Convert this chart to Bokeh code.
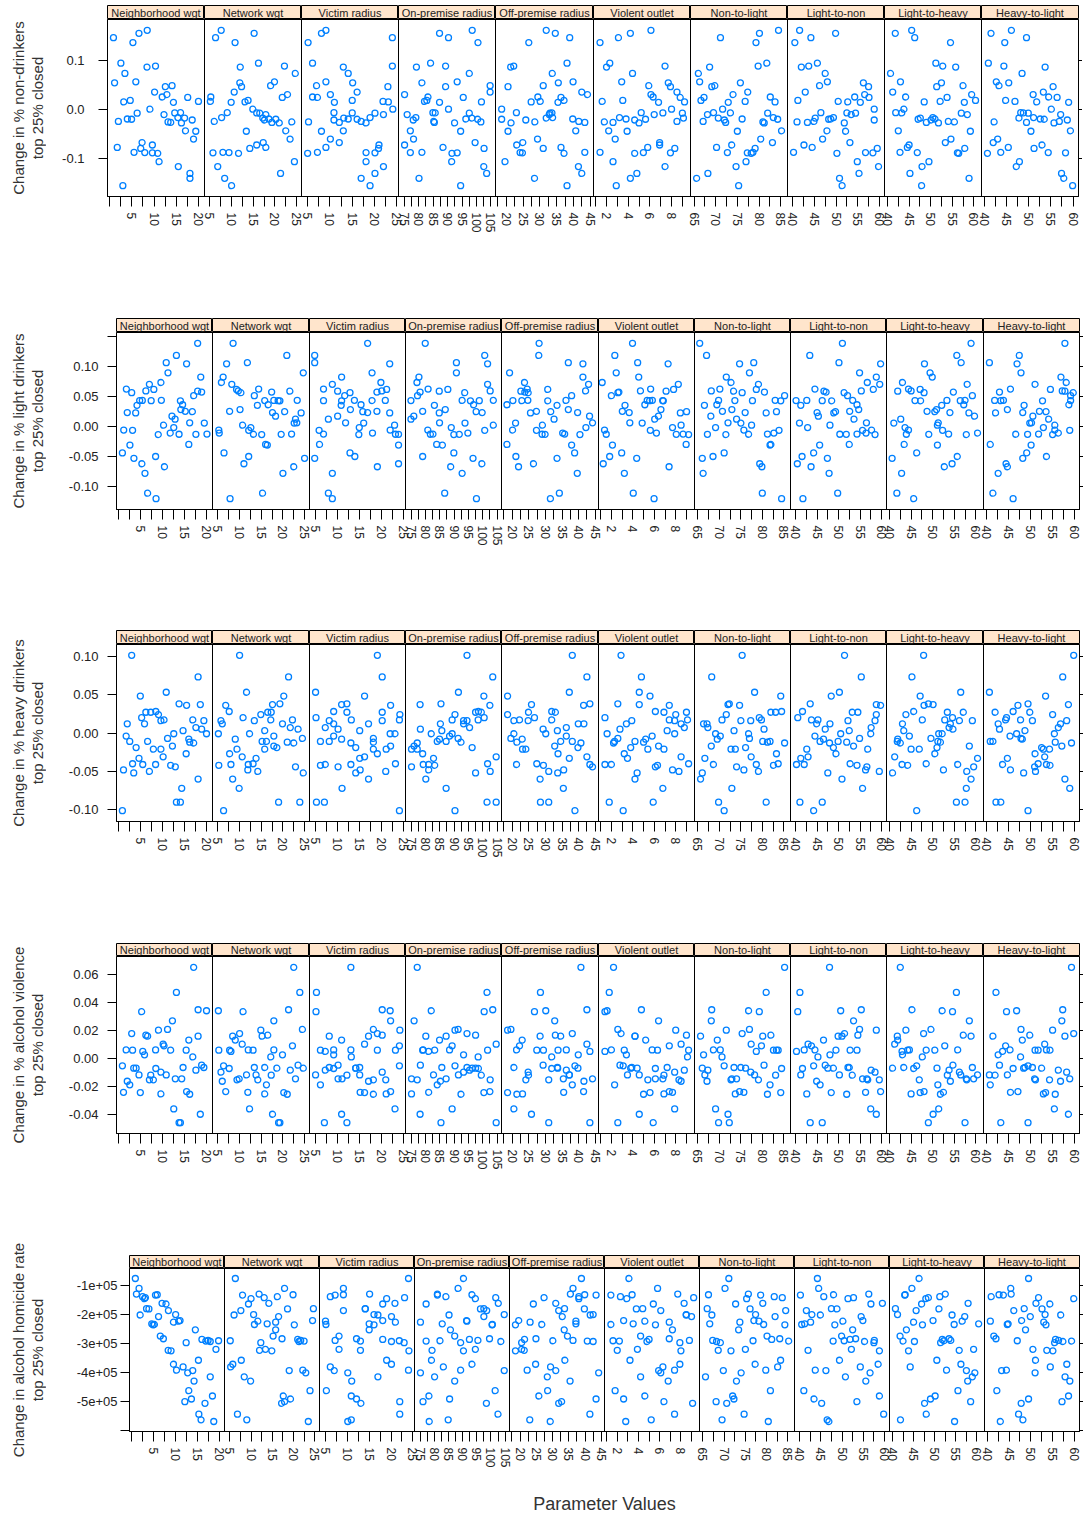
import math
from bokeh.plotting import figure
from bokeh.layouts import row, column
from bokeh.models import Range1d, FixedTicker, LinearAxis, Span
from bokeh.embed import file_html
from bokeh.resources import INLINE
from bokeh.core.properties import value

PARAMS = ["Neighborhood wgt", "Network wgt", "Victim radius", "On-premise radius",
          "Off-premise radius", "Violent outlet", "Non-to-light", "Light-to-non",
          "Light-to-heavy", "Heavy-to-light"]
X_STEP = [5, 5, 5, 5, 5, 2, 5, 5, 5, 5]

# ---------- row 1 : non-drinkers (these x lists are also the 50 runs' parameter values) ----------
r1_y = [0.161, 0.155, 0.146, 0.136, 0.094, 0.088, 0.086, 0.073, 0.056, 0.054, 0.048, 0.046, 0.035, 0.030,
        0.025, 0.024, 0.018, 0.016, 0.015, 0.014, 0.000, -0.007, -0.0075, -0.008, -0.011, -0.017, -0.018,
        -0.020, -0.0205, -0.022, -0.025, -0.026, -0.027, -0.028, -0.044, -0.045, -0.061, -0.068, -0.073,
        -0.078, -0.080, -0.088, -0.0885, -0.089, -0.090, -0.107, -0.117, -0.131, -0.141, -0.156]
r1_x01 = [8.45, 6.6, 0.9, 5.25, 2.56, 10.3, 8.4, 3.46, 5.9, 1.15, 14.0, 12.5, 10.1, 12.85, 11.8, 17.5, 4.65,
          19.9, 3.2, 14.3, 9.05, 15.9, 14.6, 6.2, 12.2, 15.3, 16.8, 4.0, 4.95, 18.5, 2.0, 13.1, 13.7, 16.1,
          17.0, 19.3, 18.8, 7.3, 9.6, 1.75, 7.0, 5.5, 7.9, 9.6, 10.8, 11.1, 15.4, 18.0, 18.0, 3.0]
r1_x02 = [7.6, 15.2, 6.3, 10.8, 16.2, 22.2, 12.0, 24.7, 19.9, 11.9, 19.0, 12.3, 10.6, 22.9, 5.2, 21.7, 13.8,
          5.1, 13.1, 9.9, 14.9, 9.0, 15.8, 16.5, 17.9, 7.7, 17.2, 18.6, 20.2, 17.6, 6.0, 23.9, 19.3, 21.0,
          22.5, 13.4, 23.5, 17.3, 15.8, 17.9, 14.2, 8.0, 9.4, 5.7, 11.6, 24.5, 6.8, 21.3, 8.4, 10.0]
r1_x03 = [9.1, 8.1, 24.0, 5.1, 6.1, 24.0, 13.0, 14.1, 9.1, 15.1, 7.0, 23.0, 16.1, 10.1, 6.1, 7.2, 15.0, 21.9,
          23.1, 11.0, 24.1, 10.9, 15.0, 20.1, 22.0, 19.0, 13.1, 14.1, 16.1, 10.9, 17.0, 5.2, 12.1, 18.1, 13.0,
          8.1, 10.1, 12.1, 21.0, 9.1, 20.9, 7.2, 18.1, 20.1, 5.0, 18.1, 22.0, 20.1, 17.0, 19.0]
r1_x04 = [98.5, 87.2, 90.3, 100.5, 84.1, 89.3, 79.2, 97.5, 93.3, 81.1, 104.7, 89.3, 104.7, 75.1, 83.2, 95.4,
          82.8, 82.0, 101.7, 87.2, 90.3, 84.9, 85.7, 97.5, 76.0, 79.0, 98.4, 96.3, 100.4, 78.1, 85.2, 101.5,
          85.4, 92.4, 77.1, 94.5, 78.2, 99.5, 75.1, 88.4, 102.6, 81.1, 77.1, 93.3, 91.5, 91.4, 102.5, 103.5,
          80.1, 94.5]
r1_x05 = [31.9, 34.6, 38.9, 26.7, 38.1, 22.2, 21.3, 33.7, 39.9, 35.5, 31.0, 20.5, 42.5, 44.2, 29.4, 36.3, 37.2,
          30.1, 27.4, 35.4, 18.6, 23.0, 33.6, 33.0, 32.8, 33.8, 31.9, 39.8, 18.6, 25.8, 41.6, 28.5, 43.4, 21.4,
          40.7, 20.5, 29.3, 24.9, 23.1, 36.3, 31.0, 43.4, 24.1, 24.8, 37.2, 19.6, 41.5, 42.5, 28.4, 38.1]
r1_x06 = [6.1, 4.2, 3.1, 1.4, 2.3, 7.4, 2.0, 4.4, 3.4, 7.7, 5.9, 7.9, 8.5, 6.1, 6.3, 8.8, 3.5, 1.6, 9.2, 6.8,
          8.0, 5.2, 7.2, 9.0, 6.4, 3.2, 9.1, 3.8, 5.6, 4.6, 8.5, 1.8, 2.6, 5.0, 2.2, 3.9, 2.8, 6.9, 6.9, 5.8,
          8.3, 1.4, 5.4, 7.9, 4.6, 2.6, 7.4, 4.8, 4.2, 2.9]
r1_x07 = [84.5, 80.1, 71.1, 79.3, 81.8, 79.8, 68.6, 66.0, 66.3, 75.7, 69.8, 69.1, 77.4, 74.0, 82.6, 67.3, 66.6,
          76.8, 83.7, 72.9, 71.6, 69.5, 73.4, 82.0, 68.1, 83.3, 70.6, 76.1, 84.3, 72.0, 67.1, 80.9, 72.3, 81.2,
          85.2, 75.0, 80.4, 83.1, 73.7, 70.2, 79.1, 78.6, 72.7, 77.3, 78.2, 77.0, 74.7, 68.2, 65.6, 75.3]
r1_x08 = [41.6, 49.9, 44.2, 40.5, 45.7, 43.7, 42.0, 47.5, 48.0, 56.3, 46.2, 57.5, 42.9, 56.6, 54.3, 57.6, 41.2,
          50.5, 52.7, 55.6, 58.8, 46.5, 52.5, 54.5, 53.5, 49.4, 45.2, 48.8, 48.3, 58.8, 44.9, 41.0, 43.4, 51.9,
          47.9, 52.2, 46.9, 53.2, 42.6, 44.5, 59.5, 40.2, 56.8, 58.5, 50.2, 54.9, 59.8, 55.3, 50.8, 51.4]
r1_x09 = [45.6, 41.8, 46.3, 54.6, 51.2, 52.8, 55.8, 40.7, 43.0, 52.5, 57.5, 51.4, 41.2, 59.5, 44.2, 53.8, 60.4,
          52.2, 48.5, 57.8, 43.8, 41.9, 43.3, 57.1, 58.5, 50.5, 47.6, 51.0, 47.1, 50.1, 54.1, 55.5, 49.0, 51.8,
          42.5, 59.2, 54.7, 53.4, 45.0, 44.6, 57.9, 42.9, 46.9, 56.2, 56.5, 49.6, 48.0, 45.2, 58.9, 47.9]
r1_x10 = [46.1, 41.5, 49.5, 44.6, 40.9, 44.4, 53.7, 48.5, 42.7, 45.5, 43.3, 55.5, 53.3, 51.0, 54.5, 56.4, 44.8,
          46.9, 51.8, 59.0, 55.1, 48.2, 48.8, 49.9, 57.2, 51.1, 47.8, 52.6, 53.5, 58.7, 56.9, 42.2, 49.5, 55.7,
          59.4, 50.5, 43.0, 42.0, 53.0, 45.4, 51.2, 43.7, 54.4, 58.3, 40.7, 47.9, 47.2, 57.4, 57.9, 59.9]

# ---------- row 2 : light drinkers ----------
r2_y = [0.138, 0.118, 0.106, 0.104, 0.089, 0.082, 0.073, 0.070, 0.062, 0.0615, 0.059, 0.0585, 0.057, 0.056,
        0.051, 0.043, 0.0432, 0.0428, 0.0434, 0.0426, 0.036, 0.035, 0.028, 0.025, 0.0245, 0.023, 0.0225,
        0.017, 0.012, 0.006, 0.0055, 0.002, -0.002, -0.006, -0.0065, -0.011, -0.013, -0.0132, -0.0128,
        -0.0135, -0.030, -0.031, -0.044, -0.050, -0.053, -0.062, -0.067, -0.078, -0.111, -0.120]
r2_x01 = [17.9, 13.1, 10.8, 15.4, 11.2, 18.6, 9.6, 7.0, 1.8, 8.0, 6.2, 17.9, 18.8, 3.0, 17.0, 4.8, 5.4, 7.4,
          9.7, 14.0, 14.5, 4.2, 14.1, 15.1, 16.7, 2.0, 3.9, 12.1, 12.8, 16.1, 19.4, 10.2, 12.5, 1.2, 3.2, 11.7,
          13.7, 17.5, 20.0, 9.0, 15.9, 2.6, 0.9, 8.4, 3.5, 5.3, 10.4, 6.0, 6.6, 8.5]
r2_x02 = [8.5, 20.9, 11.8, 7.0, 24.7, 6.2, 5.8, 8.2, 14.4, 9.3, 9.7, 21.6, 17.4, 10.3, 13.4, 15.8, 17.9, 18.9,
          23.3, 19.3, 16.6, 14.1, 10.1, 7.7, 20.4, 17.6, 24.2, 18.3, 22.9, 23.2, 22.6, 10.7, 12.6, 5.2, 12.1,
          5.3, 13.2, 19.6, 22.0, 15.1, 16.0, 16.4, 6.4, 12.1, 25.0, 11.0, 22.5, 20.0, 15.3, 7.8]
r2_x03 = [16.8, 4.8, 4.8, 21.8, 17.8, 10.9, 19.8, 8.8, 6.8, 21.1, 20.0, 10.0, 18.9, 12.8, 11.6, 17.8, 20.8,
          6.8, 13.8, 10.9, 15.3, 10.8, 12.9, 18.9, 15.7, 16.8, 21.8, 10.0, 7.9, 11.8, 15.9, 22.9, 14.9, 21.9,
          5.8, 17.9, 23.1, 23.8, 6.8, 14.8, 5.9, 23.8, 12.8, 13.9, 4.8, 23.8, 19.0, 8.8, 7.9, 8.8]
r2_x04 = [79.9, 100.7, 90.8, 101.7, 90.8, 77.7, 77.0, 101.7, 80.9, 87.8, 102.6, 84.8, 78.1, 93.7, 77.2, 74.9,
          92.8, 98.8, 103.7, 95.7, 96.8, 83.1, 86.9, 79.0, 97.7, 99.8, 84.8, 75.9, 74.9, 84.9, 93.8, 103.7,
          89.0, 80.8, 100.7, 94.8, 81.7, 91.8, 82.6, 89.9, 83.9, 85.9, 89.9, 79.0, 96.6, 99.7, 88.8, 92.8,
          86.7, 97.8]
r2_x05 = [28.1, 28.0, 36.9, 41.3, 19.2, 41.3, 23.7, 43.0, 24.5, 30.7, 42.1, 22.6, 23.8, 24.8, 37.9, 20.2, 36.2,
          22.9, 24.7, 30.7, 18.4, 33.5, 36.9, 27.3, 31.6, 39.7, 25.5, 43.3, 32.6, 44.2, 21.0, 29.1, 42.2, 20.1,
          27.3, 35.2, 29.0, 29.9, 35.8, 40.4, 18.4, 37.9, 38.8, 21.1, 33.5, 26.4, 21.9, 39.6, 34.2, 31.5]
r2_x06 = [3.97, 2.32, 4.45, 7.29, 2.45, 4.55, 1.14, 8.24, 5.66, 7.80, 4.71, 7.10, 2.70, 2.61, 2.00, 6.78, 5.34,
          5.57, 5.82, 6.84, 5.12, 3.27, 6.62, 3.02, 9.01, 3.66, 8.43, 6.39, 6.04, 3.72, 4.87, 8.50, 7.70, 1.36,
          5.63, 6.20, 1.52, 8.05, 8.69, 9.20, 8.97, 2.10, 2.96, 1.84, 4.36, 1.24, 7.38, 3.21, 4.04, 5.98]
r2_x07 = [65.4, 67.0, 78.0, 74.7, 77.0, 71.6, 72.7, 79.1, 70.1, 78.6, 68.1, 73.3, 80.5, 75.3, 85.2, 73.6, 69.8,
          77.7, 83.0, 84.3, 69.4, 66.5, 72.9, 70.7, 83.3, 76.0, 80.9, 68.0, 74.0, 72.0, 75.0, 77.5, 69.1, 75.7,
          83.9, 82.7, 76.8, 67.2, 81.2, 71.5, 82.0, 81.8, 71.1, 68.5, 66.0, 79.4, 79.9, 66.2, 80.0, 84.5]
r2_x08 = [50.9, 43.3, 50.1, 59.8, 54.9, 58.8, 56.7, 59.6, 44.5, 58.1, 55.3, 46.6, 47.1, 51.3, 52.1, 40.1, 42.6,
          46.2, 53.3, 48.4, 54.3, 41.2, 54.7, 52.6, 49.3, 45.0, 48.9, 45.3, 53.6, 56.5, 40.9, 48.0, 42.8, 57.7,
          55.6, 56.4, 50.3, 51.8, 54.3, 58.5, 52.5, 45.6, 44.2, 41.5, 47.4, 40.4, 43.6, 47.8, 49.8, 41.7]
r2_x09 = [58.9, 55.6, 56.6, 48.1, 49.4, 49.9, 43.0, 58.0, 44.4, 47.1, 45.0, 41.9, 54.8, 48.0, 59.2, 45.9, 53.3,
          56.4, 57.5, 47.2, 57.2, 52.1, 50.9, 48.7, 50.5, 54.0, 58.4, 59.7, 42.6, 51.3, 41.0, 51.1, 43.6, 44.4,
          52.3, 60.4, 43.9, 49.1, 53.7, 57.8, 43.4, 51.1, 46.3, 55.7, 40.6, 54.5, 52.7, 42.8, 41.7, 45.6]
r2_x10 = [57.9, 47.5, 40.7, 47.0, 47.9, 57.0, 58.2, 51.1, 45.5, 54.6, 57.3, 57.9, 43.0, 59.8, 59.2, 59.2, 41.9,
          43.3, 43.9, 52.8, 58.8, 48.6, 44.8, 52.1, 53.6, 48.3, 42.1, 50.6, 54.2, 50.3, 49.9, 55.6, 53.0, 55.6,
          59.0, 56.4, 46.7, 49.4, 51.9, 55.1, 40.9, 50.2, 49.2, 53.7, 48.3, 44.5, 44.8, 42.7, 41.5, 46.1]

# ---------- rows 3-5 : outcome of each run (same run order as the row-1 parameter lists) ----------
r3_y = [0.028, -0.011, -0.101, 0.020, -0.011, 0.017, -0.041, -0.052, 0.012, -0.048,
        -0.090, -0.001, -0.031, -0.044, -0.042, 0.007, -0.033, -0.001, -0.040, -0.072,
        0.024, -0.008, 0.003, 0.027, -0.017, -0.027, 0.017, -0.019, 0.048, 0.037,
        0.012, -0.090, 0.038, -0.012, -0.013, 0.016, 0.005, 0.027, -0.021, -0.004,
        -0.050, -0.041, -0.021, 0.016, 0.053, -0.007, 0.036, 0.073, -0.060, 0.101]
r4_y = [-0.0069, 0.0162, -0.0050, 0.0337, -0.0186, 0.0093, 0.0064, -0.0067, 0.0029, -0.0239,
        -0.0456, -0.0358, 0.0105, -0.0143, 0.0062, -0.0081, -0.0115, 0.0344, 0.0062, -0.0143,
        0.0205, 0.0134, -0.0062, 0.0169, 0.0272, 0.0062, 0.0014, -0.0067, -0.0241, -0.0396,
        -0.0160, 0.0475, -0.0456, -0.0253, 0.0654, -0.0062, -0.0045, -0.0117, -0.0251, 0.0064,
        -0.0150, 0.0053, -0.0150, -0.0095, -0.0115, 0.0210, -0.0234, 0.0351, 0.0162, 0.0181]
r5_y = [-187500, -275000, -77300, -235200, -139800, -392000, -323900, -180700, -133000, -130700,
        -393500, -297700, -201100, -401100, -380700, -289800, -233000, -291000, -143200, -429500,
        -325500, -562500, -253400, -208000, -500000, -358000, -505700, -181800, -236400, -480700,
        -202500, -462500, -490900, -286400, -292000, -320500, -568200, -284100, -227300, -111400,
        -162500, -134100, -164800, -371600, -223900, -221600, -543200, -293500, -414800, -146600]

RUN_X = [r1_x01, r1_x02, r1_x03, r1_x04, r1_x05, r1_x06, r1_x07, r1_x08, r1_x09, r1_x10]

Y_LABELS = [("Change in % non-drinkers", "top 25% closed"),
            ("Change in % light drinkers", "top 25% closed"),
            ("Change in % heavy drinkers", "top 25% closed"),
            ("Change in % alcohol violence", "top 25% closed"),
            ("Change in alcohol homicide rate", "top 25% closed")]

LABEL_W = 46  # width of the column that holds the rotated y titles

ROWS = [
    dict(y=r1_y, xs=RUN_X, major=[-0.2, -0.1, 0.0, 0.1, 0.2], minor=[], fmt="{:.1f}",
         L=107, W=97.1, top=5, sh=14, fh=177, bb=122, tls=14),
    dict(y=r2_y, xs=[r2_x01, r2_x02, r2_x03, r2_x04, r2_x05, r2_x06, r2_x07, r2_x08, r2_x09, r2_x10],
         major=[-0.10, -0.05, 0.0, 0.05, 0.10], minor=[-0.15, 0.15], fmt="{:.2f}",
         L=116, W=96.3, top=0, sh=14, fh=177, bb=121, tls=9),
    dict(y=r3_y, xs=RUN_X, major=[-0.10, -0.05, 0.0, 0.05, 0.10], minor=[-0.15, 0.15], fmt="{:.2f}",
         L=116, W=96.3, top=0, sh=14, fh=177, bb=122, tls=9),
    dict(y=r4_y, xs=RUN_X, major=[-0.06, -0.04, -0.02, 0.0, 0.02, 0.04, 0.06, 0.08], minor=[], fmt="{:.2f}",
         L=116, W=96.3, top=0, sh=13, fh=177, bb=122, tls=9),
    dict(y=r5_y, xs=RUN_X,
         major=[-500000.0, -400000.0, -300000.0, -200000.0, -100000.0], minor=[-600000.0], fmt="{:.0e}",
         L=129, W=95.0, top=0, sh=13, fh=163, bb=60, tls=3),
]

FONT = "Liberation Sans"
PT_COLOR = "#0080ff"
STRIP_BG = "#FFE5CC"
RIGHT_B = 4
XLAB_H = 24


def padded(lo, hi, f=0.07):
    d = hi - lo
    return lo - f * d, hi + f * d


# x limits per parameter: average of the per-row extremes, then lattice padding
XLIM = []
for c in range(10):
    mins = [min(R["xs"][c]) for R in ROWS]
    maxs = [max(R["xs"][c]) for R in ROWS]
    XLIM.append(padded(sum(mins) / len(mins), sum(maxs) / len(maxs)))


def x_ticks(lo, hi, step):
    half = step / 2.0
    major, minor = [], []
    for k in range(math.ceil(lo / half), math.floor(hi / half) + 1):
        v = float(k * half)
        if k % 2 == 0 and k != 0:
            major.append(v)
        else:
            minor.append(v)
    return major, minor


def clean_fig(**kw):
    f = figure(toolbar_location=None, output_backend="svg", **kw)
    f.border_fill_color = "white"
    for g in f.grid:
        g.visible = False
    return f


rows_out = []
label_centres = []
y_cursor = 0
for R in ROWS:
    label_centres.append(y_cursor + R["top"] + R["sh"] + R["fh"] / 2.0)
    y_cursor += R["top"] + R["sh"] + R["fh"] + R["bb"]

    ylim = padded(min(R["y"]), max(R["y"]))
    L0 = R["L"] - LABEL_W
    edges = [round(R["W"] * i) for i in range(11)]   # panel boundaries, px from the frame's left side
    TW = edges[10]

    # ---- strips (one small figure per panel) ----
    strips = []
    for c in range(10):
        s = clean_fig(frame_width=edges[c + 1] - edges[c], frame_height=R["sh"],
                      min_border_left=L0 if c == 0 else 0, min_border_right=RIGHT_B if c == 9 else 0,
                      min_border_top=R["top"], min_border_bottom=0,
                      x_range=Range1d(0, 1), y_range=Range1d(0, 1), x_axis_location=None, y_axis_location=None)
        s.background_fill_color = STRIP_BG
        s.outline_line_color = "black"
        s.outline_line_width = 1
        s.text(x=[0.5], y=[0.5], text=[PARAMS[c]], text_align="center", text_baseline="middle",
               text_font=value(FONT), text_font_size="11px", text_color="#222222")
        strips.append(s)

    # ---- one figure holding the 10 panels; each panel has its own x scale ----
    p = clean_fig(frame_width=TW, frame_height=R["fh"], min_border_left=L0, min_border_right=RIGHT_B,
                  min_border_top=0, min_border_bottom=R["bb"],
                  x_range=Range1d(0, TW), y_range=Range1d(*ylim))
    p.background_fill_color = "white"
    p.outline_line_color = "black"
    p.outline_line_width = 1

    extra = {}
    tick_major, tick_minor, tick_text = [], [], {}
    for c in range(10):
        lo, hi = XLIM[c]
        a, b = edges[c], edges[c + 1]
        k = (b - a) / (hi - lo)
        start = lo - a / k
        extra["p%d" % c] = Range1d(start, start + TW / k)
        mj, mn = x_ticks(lo, hi, X_STEP[c])
        for v in mj:
            px = a + (v - lo) * k
            tick_major.append(px)
            tick_text[px] = str(int(v)) if float(v).is_integer() else str(v)
        for v in mn:
            tick_minor.append(a + (v - lo) * k)
    p.extra_x_ranges = extra

    for c in range(10):
        p.scatter(x=R["xs"][c], y=R["y"], x_range_name="p%d" % c, marker="circle", size=6,
                  fill_color=None, line_color=PT_COLOR, line_width=1.3)
    for c in range(1, 10):
        p.add_layout(Span(location=edges[c], dimension="height", line_color="black", line_width=1))

    xa = p.xaxis[0]
    xa.ticker = FixedTicker(ticks=tick_major, minor_ticks=tick_minor)
    xa.major_label_overrides = tick_text
    xa.major_tick_out = 10
    xa.minor_tick_out = 10
    xa.major_tick_in = 0
    xa.minor_tick_in = 0
    xa.major_tick_line_color = "black"
    xa.minor_tick_line_color = "black"
    xa.axis_line_color = "black"
    xa.major_label_orientation = "vertical"
    xa.major_label_standoff = 6
    xa.major_label_text_font = FONT
    xa.major_label_text_font_size = "12px"
    xa.major_label_text_color = "#222222"

    ya = p.yaxis[0]
    ya.ticker = FixedTicker(ticks=R["major"], minor_ticks=R["minor"])
    ya.major_label_overrides = {v: R["fmt"].format(v) for v in R["major"]}
    ya.major_tick_out = 9
    ya.minor_tick_out = 9
    ya.major_tick_in = 0
    ya.minor_tick_in = 0
    ya.major_tick_line_color = "black"
    ya.minor_tick_line_color = "black"
    ya.axis_line_color = "black"
    ya.major_label_standoff = R["tls"]
    ya.major_label_text_font = FONT
    ya.major_label_text_font_size = "13px"
    ya.major_label_text_color = "#222222"

    # right side: tick marks only, no labels
    yr = LinearAxis(ticker=FixedTicker(ticks=[], minor_ticks=R["major"] + R["minor"]),
                    minor_tick_out=4, minor_tick_in=0, major_tick_out=0, major_tick_in=0,
                    major_label_standoff=0, axis_line_color="black", minor_tick_line_color="black")
    p.add_layout(yr, "right")

    rows_out.append(column(row(*strips), p))

PANELS_W = ROWS[0]["L"] - LABEL_W + round(ROWS[0]["W"] * 10) + RIGHT_B
TOTAL_H = y_cursor + XLAB_H

# ---- x title ----
xl = clean_fig(frame_width=PANELS_W, frame_height=XLAB_H, min_border_left=0, min_border_right=0,
               min_border_top=0, min_border_bottom=0, x_range=Range1d(0, PANELS_W), y_range=Range1d(0, 1),
               x_axis_location=None, y_axis_location=None)
xl.outline_line_color = None
xl.text(x=[604 - LABEL_W], y=[0.5], text=["Parameter Values"], text_align="center", text_baseline="middle",
        text_font=value(FONT), text_font_size="18px", text_color="#333333")

# ---- y titles (one tall column, y measured from the top) ----
yl = clean_fig(frame_width=LABEL_W, frame_height=TOTAL_H, min_border_left=0, min_border_right=0,
               min_border_top=0, min_border_bottom=0, x_range=Range1d(0, LABEL_W), y_range=Range1d(TOTAL_H, 0),
               x_axis_location=None, y_axis_location=None)
yl.outline_line_color = None
yl.text(x=[18] * 5, y=label_centres, text=[a for a, b in Y_LABELS], angle=math.pi / 2,
        text_align="center", text_baseline="middle", text_font=value(FONT), text_font_size="15px",
        text_color="#333333")
yl.text(x=[37] * 5, y=label_centres, text=[b for a, b in Y_LABELS], angle=math.pi / 2,
        text_align="center", text_baseline="middle", text_font=value(FONT), text_font_size="15px",
        text_color="#333333")

layout = row(yl, column(*rows_out, xl))
open("out.html", "w").write(file_html(layout, INLINE))
